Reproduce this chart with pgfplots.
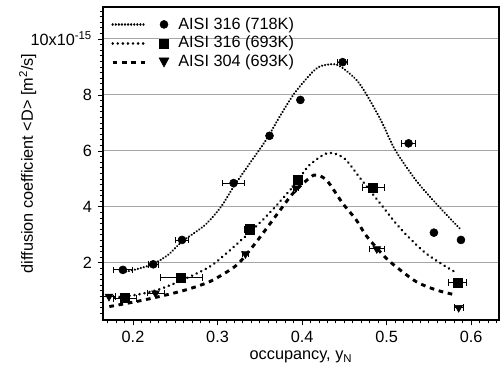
\documentclass[border=0pt]{standalone}
\usepackage{fontspec}
\setmainfont{Liberation Sans}
\usepackage{pgfplots}
\pgfplotsset{compat=1.18}
\begin{document}
\fontsize{12.2}{14}\selectfont
\begin{tikzpicture}
\begin{axis}[
 scale only axis, width=297pt, height=234.75pt,
 xmin=0.1645, xmax=0.633, ymin=-0.04, ymax=11.14,
 xtick={0.2,0.3,0.4,0.5,0.6}, xticklabels={0.2,0.3,0.4,0.5,0.6},
 ytick={2,4,6,8,10}, yticklabels={2,4,6,8,10x10\textsuperscript{-15}},
 minor xtick={0.17,0.18,...,0.63},
 minor ytick={0.2,0.4,...,11.1},
 tick pos=left, tick align=outside,
 major tick length=4pt, minor tick length=2.5pt,
 ymajorgrids, major grid style={black!35, line width=0.7pt},
 axis line style={line width=0.9pt},
 tick style={black, line width=0.6pt},
 /pgf/number format/assume math mode=true,
 xlabel={occupancy, y\textsubscript{N}},
 ylabel={diffusion coefficient <D> [m\textsuperscript{2}/s]},
 every axis y label/.style={at={(axis description cs:-0.19,0.5)}, rotate=90, anchor=center},
 every axis x label/.style={at={(axis description cs:0.5,-0.118)}, anchor=center},
 legend style={at={(0.01,0.985)}, anchor=north west, draw=none, fill=none, row sep=-0.5pt},
 legend cell align=left,
 legend entries={AISI 316 (718K), AISI 316 (693K), AISI 304 (693K)},
 error bars/error bar style={line width=0.6pt, black},
]
\addlegendimage{legend image code/.code={\draw[black, line width=1.8pt, dash pattern=on 0.01pt off 2.3pt, line cap=round] (0pt,0pt)--(24.75pt,0pt); \fill[black] (38.5pt,0pt) circle (3pt); \path (47pt,0pt);}}
\addlegendimage{legend image code/.code={\draw[black, line width=2.1pt, dash pattern=on 0.01pt off 3.8pt, line cap=round] (0pt,0pt)--(24.75pt,0pt); \fill[black] (35.1pt,-3.4pt) rectangle (41.9pt,3.4pt); \path (47pt,0pt);}}
\addlegendimage{legend image code/.code={\draw[black, line width=2.2pt, dash pattern=on 3.5pt off 3.5pt] (0pt,0pt)--(24.75pt,0pt); \fill[black] (34.8pt,3.2pt) -- (42.2pt,3.2pt) -- (38.5pt,-3.6pt) -- cycle; \path (47pt,0pt);}}

% fitted curves
\addplot[forget plot, smooth, black, line width=1.8pt, dash pattern=on 0.01pt off 2.3pt, line cap=round] table {
x y
0.188 1.66
0.205 1.78
0.224 1.96
0.242 2.30
0.258 2.76
0.285 3.35
0.304 4.00
0.319 4.72
0.338 5.55
0.358 6.42
0.375 7.30
0.3925 8.12
0.416 8.92
0.430 9.08
0.444 9.04
0.4675 8.42
0.493 7.11
0.510 6.04
0.536 4.90
0.562 4.01
0.588 3.18
};
\addplot[forget plot, smooth, black, line width=2.1pt, dash pattern=on 0.01pt off 3.8pt, line cap=round] table {
x y
0.172 0.74
0.204 0.86
0.2315 1.06
0.263 1.45
0.290 1.85
0.307 2.25
0.3385 3.10
0.362 3.80
0.3858 4.60
0.3976 5.05
0.4083 5.48
0.430 5.92
0.4497 5.74
0.4686 5.03
0.4923 4.13
0.516 3.24
0.5466 2.34
0.580 1.69
};
\addplot[forget plot, smooth, black, line width=2.2pt, dash pattern=on 3.5pt off 3.5pt] table {
x y
0.172 0.44
0.204 0.62
0.2315 0.80
0.263 1.04
0.2907 1.33
0.3148 1.75
0.327 2.05
0.346 2.75
0.372 3.80
0.3897 4.50
0.4095 5.05
0.418 5.14
0.430 4.92
0.448 4.13
0.464 3.54
0.476 2.97
0.4975 2.23
0.511 1.87
0.535 1.33
0.558 1.04
0.578 0.88
};

% data points
\addplot[forget plot, only marks, black, mark=*, mark size=3pt,
 error bars/.cd, x dir=both, x explicit, error mark options={rotate=90, mark size=2.5pt, black, line width=0.6pt}]
 table[x=x, y=y, x error=e] {
x y e
0.188 1.75 0.011
0.224 1.95 0.006
0.258 2.82 0.008
0.319 4.85 0.013
0.3615 6.54 0
0.398 7.82 0
0.448 9.17 0.006
0.526 6.27 0.008
0.556 3.08 0
0.588 2.82 0
};
\addplot[forget plot, only marks, black, mark=square*, mark size=3.4pt,
 error bars/.cd, x dir=both, x explicit, error mark options={rotate=90, mark size=2.5pt, black, line width=0.6pt}]
 table[x=x, y=y, x error=e] {
x y e
0.1905 0.74 0.014
0.257 1.47 0.025
0.338 3.20 0.006
0.395 4.97 0.004
0.484 4.70 0.013
0.584 1.30 0.011
};
\addplot[forget plot, only marks, black, mark=triangle*, mark size=3.4pt, mark options={rotate=180},
 error bars/.cd, x dir=both, x explicit, error mark options={rotate=90, mark size=2.5pt, black, line width=0.6pt}]
 table[x=x, y=y, x error=e] {
x y e
0.1716 0.80 0.007
0.2266 0.92 0.010
0.333 2.32 0.003
0.3925 4.67 0.003
0.4884 2.50 0.009
0.5853 0.40 0.005
};
\end{axis}
\pgfresetboundingbox
\path ([shift={(-77.25pt,-36.75pt)}]current axis.south west) rectangle ([shift={(0.75pt,5.25pt)}]current axis.north east);
\end{tikzpicture}
\end{document}
